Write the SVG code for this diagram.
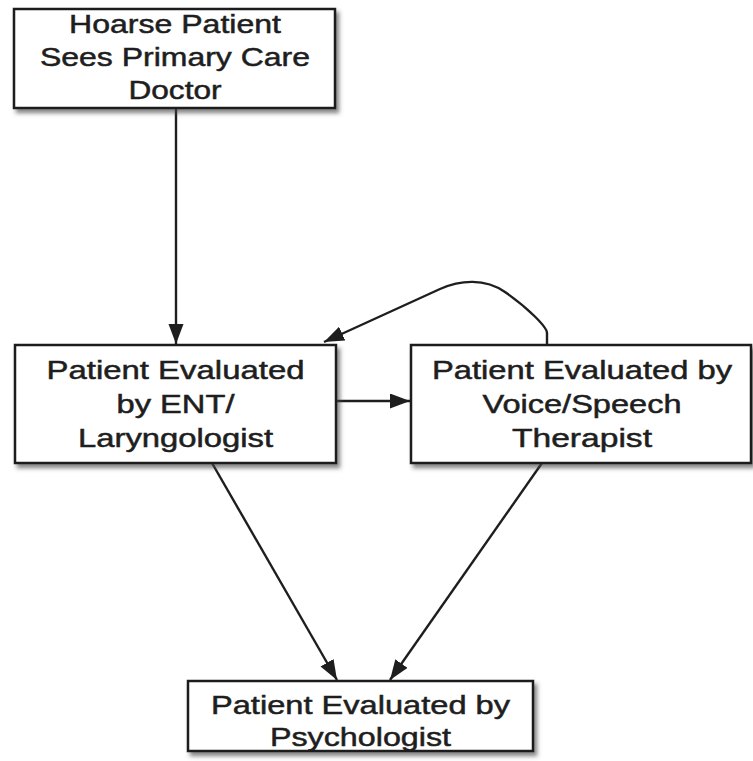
<svg xmlns="http://www.w3.org/2000/svg" width="753" height="761" viewBox="0 0 753 761">
<style>
.box{fill:#fff;stroke:#1e1e1e;stroke-width:2.5;filter:url(#sh)}
.t{font-family:"Liberation Sans",Arial,sans-serif;font-size:26px;fill:#1e1e1e;stroke:#1e1e1e;stroke-width:0.5;text-anchor:middle}
.c{fill:none;stroke:#1e1e1e;stroke-width:2.4;marker-end:url(#ah)}
</style>
<defs>
<filter id="sh" x="-10%" y="-10%" width="120%" height="130%">
<feDropShadow dx="3" dy="4" stdDeviation="2" flood-color="#444" flood-opacity="0.65"/>
</filter>
<marker id="ah" markerUnits="userSpaceOnUse" markerWidth="22" markerHeight="16" refX="20" refY="7.5" orient="auto">
<path d="M0,0 L20,7.5 L0,15 z" fill="#1e1e1e"/>
</marker>
</defs>
<g id="connectors">
<path class="c" d="M176,108 L176,344"/>
<path class="c" d="M336,401 L410,401"/>
<path class="c" d="M547,345 V333 C547,327 528,308 505,292 C485,278 460,280 440,289 L324,342"/>
<path class="c" d="M212,463 L337,680"/>
<path class="c" d="M542,463 L390,680"/>
</g>
<g id="n1">
<rect class="box" x="14" y="9" width="321" height="99"/>
<text class="t" x="175" y="33" textLength="212" lengthAdjust="spacingAndGlyphs">Hoarse Patient</text>
<text class="t" x="175" y="66" textLength="270" lengthAdjust="spacingAndGlyphs">Sees Primary Care</text>
<text class="t" x="175" y="99" textLength="93" lengthAdjust="spacingAndGlyphs">Doctor</text>
</g>
<g id="n2">
<rect class="box" x="15" y="345" width="321" height="118"/>
<text class="t" x="175.5" y="379" textLength="258" lengthAdjust="spacingAndGlyphs">Patient Evaluated</text>
<text class="t" x="175.5" y="413" textLength="118" lengthAdjust="spacingAndGlyphs">by ENT/</text>
<text class="t" x="175.5" y="447" textLength="195" lengthAdjust="spacingAndGlyphs">Laryngologist</text>
</g>
<g id="n3">
<rect class="box" x="411" y="345" width="340" height="118"/>
<text class="t" x="582" y="379" textLength="300" lengthAdjust="spacingAndGlyphs">Patient Evaluated by</text>
<text class="t" x="582" y="413" textLength="199" lengthAdjust="spacingAndGlyphs">Voice/Speech</text>
<text class="t" x="582" y="447" textLength="140" lengthAdjust="spacingAndGlyphs">Therapist</text>
</g>
<g id="n4">
<rect class="box" x="188" y="681" width="345" height="70"/>
<text class="t" x="360.5" y="714" textLength="299" lengthAdjust="spacingAndGlyphs">Patient Evaluated by</text>
<text class="t" x="360.5" y="746" textLength="181" lengthAdjust="spacingAndGlyphs">Psychologist</text>
</g>
</svg>
